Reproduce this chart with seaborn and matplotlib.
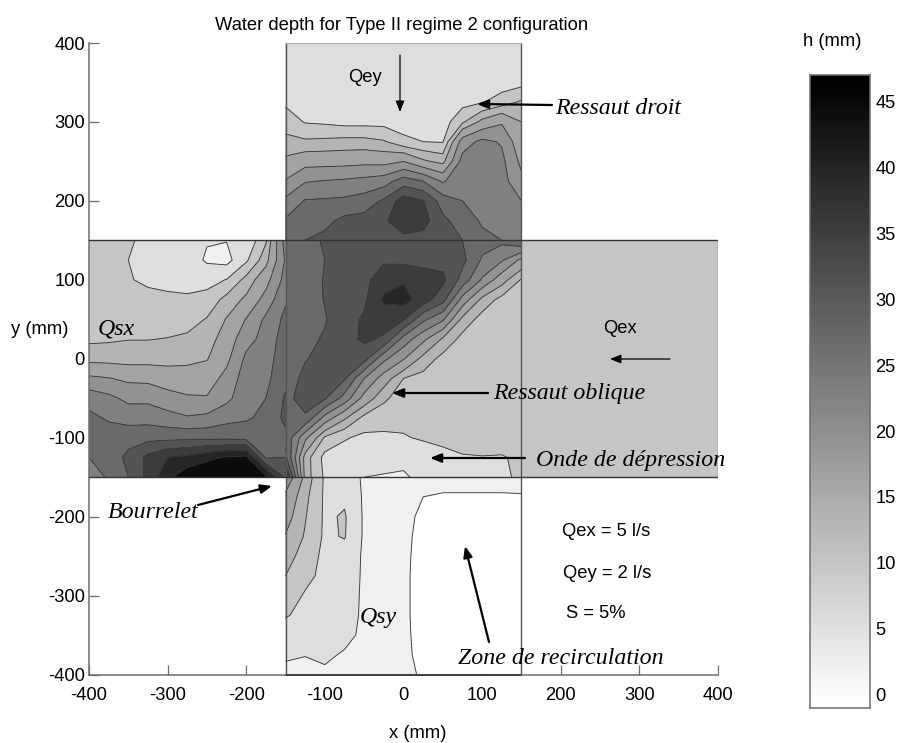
import numpy as np
import matplotlib
matplotlib.use("Agg")
import matplotlib.pyplot as plt
import seaborn as sns

# ── depth values (mm), one list per x column, top row first ──
x_arm = [-150, -125, -100, -75, -50, -25, 0, 25, 50, 75, 100, 125, 150]
x_left = [-400, -375, -350, -325, -300, -275, -250, -225, -200, -175, -150]
x_right = [150, 400]
y_top = [400, 375, 350, 325, 300, 275, 250, 225, 200, 175, 150]
y_mid = [150, 125, 100, 75, 50, 25, 0, -25, -50, -75, -100, -125, -150]
y_bot = [-150, -175, -200, -225, -250, -275, -300, -325, -350, -375, -400]
y_right = [150, -150]

h_top = [
    [6.5, 6.5, 6.5, 7.5, 9.6, 11.9, 14.8, 18.3, 22.9, 26.5, 29],
    [6.5, 6.5, 6.5, 6.5, 7.8, 11.5, 16.4, 21.7, 26.3, 28, 30],
    [6.5, 6.5, 6.5, 6.5, 7.5, 11.7, 16.5, 22.2, 26.5, 29, 31],
    [6.5, 6.5, 6.5, 6.5, 7, 12, 16.6, 22.6, 26.8, 31, 32],
    [6.5, 6.5, 6.5, 6.5, 7, 12, 16.9, 23.2, 27.8, 31.5, 33],
    [6.5, 6.5, 6.5, 6.5, 7, 11.3, 16.7, 24.1, 30.6, 33.5, 32.5],
    [6.5, 6.5, 6.5, 6.5, 6.5, 8.8, 18, 28, 36, 36, 33],
    [6.5, 6.5, 6.5, 6.5, 6.5, 8, 14.6, 26, 34.2, 35.5, 32.5],
    [6.5, 6.5, 6.5, 6.5, 6.5, 7.8, 13, 21.5, 28, 31, 31],
    [6.5, 6.5, 6.5, 7, 10.5, 20, 23.5, 25, 26, 28, 30],
    [6.5, 6.5, 6.5, 7.8, 15, 23, 23.5, 24, 24.5, 25.5, 27],
    [6.5, 6.5, 6.5, 9.5, 17.5, 21.6, 23, 23.5, 24, 25, 26],
    [6.5, 6.5, 7, 11.5, 14, 15, 17, 19, 22, 24, 26],
]

h_mid = [
    [28, 27, 27, 26.5, 26.5, 27, 27.5, 28, 29, 29.5, 29, 31, 40],
    [28.5, 28, 28, 28, 28.5, 29, 29.8, 31, 31.5, 29.5, 19, 12.5, 12.5],
    [30.5, 30, 30.3, 30.2, 29.7, 30.4, 31, 32, 30.5, 20.5, 10.5, 7, 7.5],
    [32, 32, 32, 32.5, 32.5, 32.5, 32.5, 30.5, 24.5, 14.5, 8.3, 6.5, 5.5],
    [33, 33, 33, 33.3, 34.5, 34.7, 31.5, 22, 16.5, 10, 7.3, 6, 5],
    [32.5, 33.5, 36, 38.7, 35.5, 33.5, 23, 16, 11.5, 9.5, 7.3, 6, 4.8],
    [32, 33, 37.6, 39.5, 34.5, 24.5, 18.3, 11, 9.7, 8.7, 7.8, 6, 4.5],
    [31.5, 33, 35.5, 36, 27, 19, 12.8, 10, 9.5, 9, 8.3, 6.5, 6],
    [31, 32.5, 35, 31.5, 22.7, 13.5, 10, 9.5, 9.3, 9.3, 8.7, 7.2, 7],
    [30, 31, 28.5, 20.5, 13, 10, 9.5, 9.5, 9.5, 9.4, 9, 7.8, 7.5],
    [27.5, 25.5, 21.5, 13, 9.8, 9.5, 9.5, 9.5, 9.5, 9.5, 9.2, 7.9, 7.6],
    [27, 22.5, 15.5, 10, 9.5, 9.5, 9.5, 9.5, 9.5, 9.5, 9.3, 7.8, 7.5],
    [30, 17, 10.7, 9.6, 9.5, 9.5, 9.5, 9.5, 9.5, 9.5, 9.4, 8.5, 8.5],
]

h_bot = [
    [21, 17, 15.5, 13.8, 12.5, 11, 9.5, 8.2, 6.8, 5.5, 4],
    [13, 11.8, 11.2, 10.7, 9.5, 8.8, 7.7, 7.3, 6.5, 5.1, 4],
    [7.5, 7.5, 7.5, 7.5, 7.3, 7.2, 7, 6.8, 6.3, 5.5, 4.5],
    [6.5, 7.5, 8.3, 8.2, 6.8, 6.5, 6.2, 6, 5.8, 4.7, 3.5],
    [4.6, 4.6, 4.6, 4.6, 4.6, 4.6, 4.6, 4.6, 4.4, 4, 3.5],
    [4, 3.8, 3.6, 3.5, 3.5, 3.5, 3.5, 3.5, 3.5, 3.2, 3],
    [4, 3.8, 3.4, 2.8, 2.6, 2.5, 2.5, 2.5, 2.6, 2.8, 3],
    [3.5, 2, 1, 1, 1, 1, 1, 1, 1, 1, 1.5],
    [3.5, 1.6, 0.5, 0.5, 0.5, 0.5, 0.5, 0.5, 0.5, 0.5, 0.5],
    [3.5, 1.6, 0.5, 0.5, 0.5, 0.5, 0.5, 0.5, 0.5, 0.5, 0.5],
    [3.5, 1.6, 0.5, 0.5, 0.5, 0.5, 0.5, 0.5, 0.5, 0.5, 0.5],
    [3.5, 1.6, 0.5, 0.5, 0.5, 0.5, 0.5, 0.5, 0.5, 0.5, 0.5],
    [3.5, 1.7, 0.5, 0.5, 0.5, 0.5, 0.5, 0.5, 0.5, 0.5, 0.5],
]

h_left = [
    [9.5, 9.5, 9.5, 9.6, 9.8, 10.4, 12.9, 18.8, 24.4, 27, 28, 26, 24],
    [9.5, 9.5, 9.6, 9.8, 10, 10.6, 12.8, 18.2, 23, 25.5, 28, 27.5, 26.5],
    [8.5, 8, 8.2, 9, 9.7, 10.9, 12.6, 17.2, 21, 24.5, 28.5, 31, 30],
    [7, 7, 7.5, 8.8, 9.8, 10.9, 12.7, 17, 21, 24.5, 28.8, 35, 35],
    [7, 7, 7, 8.7, 9.7, 11.1, 12.8, 16, 19.5, 23.5, 28.8, 38, 41],
    [6, 6.5, 6.8, 8.5, 9.7, 11.6, 13.2, 15.6, 18.5, 22.4, 29, 39, 45],
    [5.2, 4.6, 7, 9, 11.2, 12.5, 13.8, 16, 18.3, 23, 29, 41, 46],
    [5.1, 4, 8.1, 12, 14.2, 15.7, 17, 19.3, 21, 24.7, 29, 42.5, 47],
    [5.5, 7.5, 12, 14.7, 18.2, 20.5, 22.9, 24, 24.5, 25.5, 28.7, 43, 47],
    [10.6, 12.8, 16.5, 19.5, 22.8, 23.5, 24.3, 25, 26, 27, 28, 29.5, 43],
    [24, 22.5, 23.5, 25.5, 27, 28, 28.5, 29, 30.5, 31, 29, 30, 33],
]

h_right = [[9.5, 9.5], [9.5, 9.5]]

levels = [-1.5, 2, 5, 8, 11, 14, 18, 22, 26, 30, 34, 38, 42, 48]
band_grays = [255, 240, 222, 197, 180, 163, 146, 128, 106, 84, 60, 38, 12]
cbar_ticks = [0, 5, 10, 15, 20, 25, 30, 35, 40, 45]
ticks = [-400, -300, -200, -100, 0, 100, 200, 300, 400]

W, H = 899, 743
EDGE = "#6e6e6e"
SANS = 13.2

sns.set_theme(style="ticks")
plt.rcParams["font.family"] = ["Liberation Sans", "DejaVu Sans"]
plt.rcParams["axes.linewidth"] = 1.1
plt.rcParams["axes.edgecolor"] = EDGE
plt.rcParams["axes.unicode_minus"] = False


def box(left, top, right, bottom):
    return [left / W, 1 - bottom / H, (right - left) / W, (bottom - top) / H]


def frac(x, y):
    return (x / W, 1 - y / H)


def label(fig, x, y, s, **kw):
    fig.text(x / W, 1 - y / H, s, va="center", color="black", **kw)


def serif(fig, x, y, s):
    label(fig, x, y, s, family="Liberation Serif", style="italic", fontsize=17.2, ha="left")


def arrow(ax, start, end, lw=1.6, head=1.0):
    ax.annotate("", xy=frac(*end), xytext=frac(*start),
                xycoords="figure fraction", textcoords="figure fraction",
                arrowprops=dict(arrowstyle=f"-|>,head_length={0.55 * head},head_width={0.22 * head}",
                                color="black", lw=lw, shrinkA=0, shrinkB=0))


fig = plt.figure(figsize=(W / 100, H / 100), dpi=100)
ax = fig.add_axes(box(89, 43, 718, 674.5))

colors = [str(g / 255) for g in band_grays]
patches = [
    (x_arm, y_top, h_top),
    (x_arm, y_mid, h_mid),
    (x_arm, y_bot, h_bot),
    (x_left, y_mid, h_left),
]
for xs, ys, cols in patches:
    z = np.array(cols).T
    ax.contourf(xs, ys, z, levels=levels, colors=colors)
    ax.contour(xs, ys, z, levels=levels[1:-1], colors="#3a3a3a", linewidths=0.65)
ax.contourf(x_right, y_right, np.array(h_right), levels=levels, colors=colors)

# edges of the measured cross
for pos in (-150, 150):
    ax.plot([pos, pos], [-400, 400], color="#555555", lw=1.0, zorder=3)
    ax.plot([-400, 400], [pos, pos], color="#333333", lw=1.0, zorder=3)
ax.plot([400, 400], [-150, 150], color=EDGE, lw=1.0, zorder=3)
ax.plot([-150, 150], [400, 400], color="#aaaaaa", lw=0.8, zorder=3)
ax.plot([-150, 150], [-400, -400], color="#333333", lw=1.2, zorder=3, clip_on=False)

ax.set_xlim(-400, 400)
ax.set_ylim(-400, 400)
ax.set_xticks(ticks)
ax.set_yticks(ticks)
ax.tick_params(direction="in", length=7, width=0.9, color=EDGE, labelsize=SANS,
               labelcolor="black", pad=3)
ax.tick_params(axis="x", pad=9)
sns.despine(ax=ax)

# colour bar
cax = fig.add_axes(box(810, 75, 870, 708))
ramp = np.linspace(47, -1, 97).reshape(-1, 1)
sns.heatmap(ramp, ax=cax, cmap="gray_r", vmin=-1, vmax=47, cbar=False,
            xticklabels=False, yticklabels=False)
cax.yaxis.tick_right()
cax.set_yticks([(47 - v) / 48 * 97 for v in cbar_ticks])
cax.set_yticklabels(cbar_ticks, rotation=0)
cax.tick_params(axis="y", direction="in", length=7, width=0.9, color=EDGE,
                labelsize=SANS, labelcolor="black", left=True, right=True, pad=4)
for side in cax.spines.values():
    side.set_visible(True)
    side.set_color(EDGE)
    side.set_linewidth(1.1)

# texts
label(fig, 402, 25, "Water depth for Type II regime 2 configuration", fontsize=13.2, ha="center")
label(fig, 832, 42, "h (mm)", fontsize=SANS, ha="center")
label(fig, 40, 330, "y (mm)", fontsize=SANS, ha="center")
label(fig, 418, 733, "x (mm)", fontsize=SANS, ha="center")
label(fig, 365, 77, "Qey", fontsize=SANS, ha="center")
label(fig, 620, 328, "Qex", fontsize=SANS, ha="center")
label(fig, 562, 531, "Qex = 5 l/s", fontsize=SANS, ha="left")
label(fig, 563, 573, "Qey = 2 l/s", fontsize=SANS, ha="left")
label(fig, 566, 614, "S = 5%", fontsize=SANS, ha="left")

serif(fig, 98, 329, "Qsx")
serif(fig, 360, 618, "Qsy")
serif(fig, 555, 108, "Ressaut droit")
serif(fig, 493, 394, "Ressaut oblique")
serif(fig, 536, 460, "Onde de dépression")
serif(fig, 108, 512, "Bourrelet")
serif(fig, 458, 658, "Zone de recirculation")

# arrows
arrow(ax, (400, 55), (400, 112), lw=0.9)
arrow(ax, (670, 359), (610, 359), lw=0.9)
arrow(ax, (552, 105), (477, 104))
arrow(ax, (488, 393), (392, 393))
arrow(ax, (525, 458), (430, 458))
arrow(ax, (198, 505), (272, 486))
arrow(ax, (489, 642), (465, 546))

fig.savefig("out.png", dpi=100)
